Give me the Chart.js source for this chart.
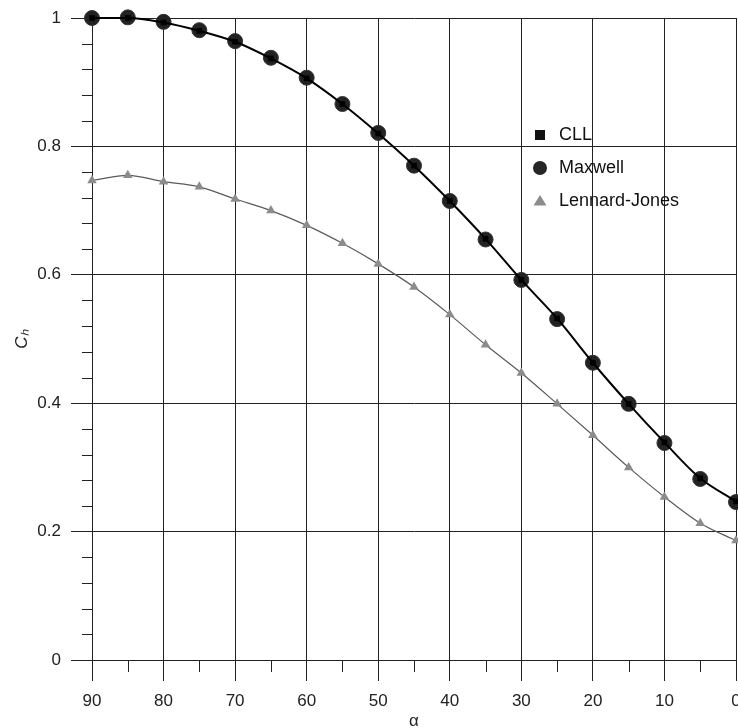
<!DOCTYPE html>
<html>
<head>
<meta charset="utf-8">
<script src="https://cdn.jsdelivr.net/npm/chart.js@4/dist/chart.umd.min.js"></script>
<style>
  html, body { margin: 0; padding: 0; background: #fff; }
  #wrap { width: 738px; height: 728px; }
</style>
</head>
<body>
<div id="wrap"><canvas id="graph0" width="738" height="728"></canvas></div>
<script>
// 入射角 α
var alpha       = [90, 85, 80, 75, 70, 65, 60, 55, 50, 45, 40, 35, 30, 25, 20, 15, 10, 5, 0];
// 各モデルの Ch
var cll         = [1.000, 1.000, 0.993, 0.980, 0.963, 0.937, 0.906, 0.866, 0.820, 0.770, 0.715, 0.656, 0.592, 0.532, 0.463, 0.399, 0.339, 0.283, 0.247];
var maxwell     = [1.000, 1.001, 0.994, 0.981, 0.964, 0.938, 0.907, 0.866, 0.821, 0.770, 0.715, 0.655, 0.592, 0.531, 0.463, 0.399, 0.338, 0.282, 0.246];
var lennard     = [0.747, 0.755, 0.745, 0.737, 0.718, 0.700, 0.677, 0.649, 0.617, 0.581, 0.538, 0.491, 0.447, 0.399, 0.350, 0.300, 0.254, 0.213, 0.186];
var legend_names = ["CLL", "Maxwell", "Lennard-Jones"];

var FONT    = "'Liberation Sans', Arial, sans-serif";
var GRID    = "#222";

function xy(values){
    let out = [];
    for (let i=0;i<alpha.length;i++){
        out.push({x: alpha[i], y: values[i]});
    }
    return out;
}

//補助目盛りと凡例は自前で描く
var extras = {
    id: "extras",
    afterDraw: function(chart){
        let ctx = chart.ctx;
        let xs  = chart.scales.x;
        let ys  = chart.scales.y;
        let a   = chart.chartArea;
        ctx.save();
        ctx.strokeStyle = GRID;
        ctx.lineWidth   = 1;
        ctx.beginPath();
        for (let v=5; v<90; v+=10){
            let px = Math.round(xs.getPixelForValue(v)) + 0.5;
            ctx.moveTo(px, a.bottom);
            ctx.lineTo(px, a.bottom + 12);
        }
        for (let k=1; k<25; k++){
            if (k % 5 === 0){ continue; }
            let py = Math.round(ys.getPixelForValue(k * 0.04)) + 0.5;
            ctx.moveTo(a.left - 10, py);
            ctx.lineTo(a.left, py);
        }
        ctx.stroke();

        // 凡例
        let lx = a.left + 448;
        let ly = a.top + 117;
        let gap = 33;
        ctx.fillStyle = "#111";
        ctx.fillRect(lx - 5, ly - 5, 10, 10);

        ctx.fillStyle = "#262626";
        ctx.beginPath();
        ctx.arc(lx, ly + gap, 7, 0, Math.PI * 2);
        ctx.fill();

        ctx.fillStyle = "#8c8c8c";
        ctx.beginPath();
        ctx.moveTo(lx, ly + gap * 2 - 6);
        ctx.lineTo(lx + 6.5, ly + gap * 2 + 4.5);
        ctx.lineTo(lx - 6.5, ly + gap * 2 + 4.5);
        ctx.closePath();
        ctx.fill();

        ctx.fillStyle    = "#111";
        ctx.font         = "18px " + FONT;
        ctx.textBaseline = "middle";
        ctx.textAlign    = "left";
        for (let i=0;i<legend_names.length;i++){
            ctx.fillText(legend_names[i], lx + 19, ly + gap * i);
        }
        ctx.restore();
    }
};

var CHART0 = new Chart(document.getElementById("graph0"), {
    type: "scatter",
    data: {
        datasets: [
            {
                label: "CLL",
                data: xy(cll),
                showLine: true,
                borderColor: "#000",
                borderWidth: 2,
                cubicInterpolationMode: "monotone",
                pointStyle: "rect",
                pointRadius: 4,
                pointBackgroundColor: "#000",
                pointBorderWidth: 0,
            },
            {
                label: "Maxwell",
                data: xy(maxwell),
                showLine: false,
                pointStyle: "circle",
                pointRadius: 7.5,
                pointBackgroundColor: "#222",
                pointBorderColor: "#333",
                pointBorderWidth: 1,
            },
            {
                label: "Lennard-Jones",
                data: xy(lennard),
                showLine: true,
                borderColor: "#5a5a5a",
                borderWidth: 1.2,
                cubicInterpolationMode: "monotone",
                pointStyle: "triangle",
                pointRadius: 5.5,
                pointBackgroundColor: "#8c8c8c",
                pointBorderColor: "#8c8c8c",
                pointBorderWidth: 0,
            },
        ],
    },
    options: {
        responsive: false,
        animation: false,
        clip: false,
        layout: { autoPadding: false, padding: { left: 0, top: 18, right: 2, bottom: 0 } },
        plugins: {
            legend: { display: false },
            tooltip: { enabled: false },
        },
        scales: {
            x: {
                type: "linear",
                reverse: true,
                min: 0,
                max: 90,
                ticks: {
                    stepSize: 10,
                    color: "#222",
                    font: { family: FONT, size: 17 },
                    padding: 10,
                    maxRotation: 0,
                },
                grid: { color: GRID, lineWidth: 1, tickLength: 21 },
                border: { color: GRID, width: 1 },
                title: {
                    display: true,
                    text: "α",
                    color: "#222",
                    font: { family: FONT, size: 17 },
                    padding: { top: 0, bottom: -4 },
                },
                afterFit: function(scale){
                    scale.height = 68;
                    scale.paddingLeft = 0;
                    scale.paddingRight = 0;
                },
            },
            y: {
                min: 0,
                max: 1,
                ticks: {
                    stepSize: 0.2,
                    color: "#222",
                    font: { family: FONT, size: 17 },
                    padding: 10,
                    callback: function(v){ return String(Math.round(v * 10) / 10); },
                },
                grid: { color: GRID, lineWidth: 1, tickLength: 21 },
                border: { color: GRID, width: 1 },
                title: {
                    display: true,
                    text: "Cₕ",
                    color: "#222",
                    font: { family: FONT, size: 17, style: "italic" },
                    padding: { top: 12, bottom: 0 },
                },
                afterFit: function(scale){
                    scale.width = 92;
                    scale.paddingTop = 0;
                    scale.paddingBottom = 0;
                },
            },
        },
    },
    plugins: [extras],
});
</script>
</body>
</html>
